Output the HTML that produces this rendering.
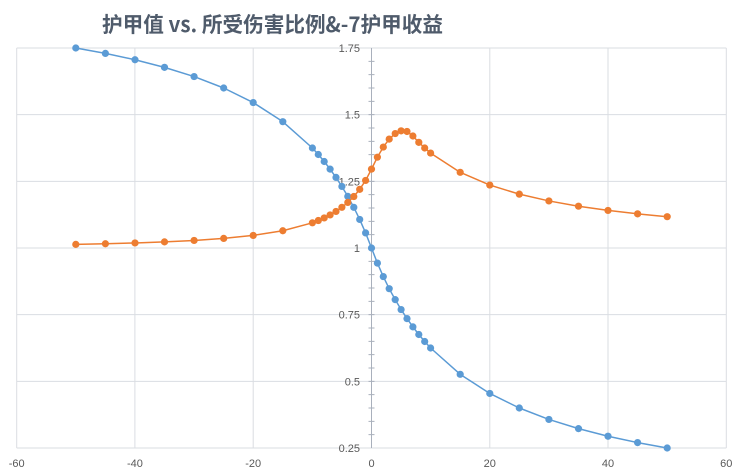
<!DOCTYPE html>
<html><head><meta charset="utf-8"><style>
html,body{margin:0;padding:0;background:#fff;}
svg{display:block;}
text{font-family:"Liberation Sans","Noto Sans CJK SC",sans-serif;}
</style></head><body>
<svg width="740" height="472" viewBox="0 0 740 472" xmlns="http://www.w3.org/2000/svg">
<rect width="740" height="472" fill="#fff"/>
<text x="102" y="32" font-size="21" font-weight="bold" fill="#4F5B6B" textLength="341" lengthAdjust="spacingAndGlyphs" style="font-family:'Noto Sans CJK SC','Liberation Sans',sans-serif">护甲值 vs. 所受伤害比例&amp;-7护甲收益</text>
<g stroke="#DADDE2" stroke-width="1" fill="none">
<line x1="16.7" y1="48" x2="726.3" y2="48"/>
<line x1="16.7" y1="114.67" x2="726.3" y2="114.67"/>
<line x1="16.7" y1="181.33" x2="726.3" y2="181.33"/>
<line x1="16.7" y1="248" x2="726.3" y2="248"/>
<line x1="16.7" y1="314.67" x2="726.3" y2="314.67"/>
<line x1="16.7" y1="381.33" x2="726.3" y2="381.33"/>
<line x1="16.7" y1="448" x2="726.3" y2="448"/>
<line x1="16.7" y1="48" x2="16.7" y2="448"/>
<line x1="134.9" y1="48" x2="134.9" y2="448"/>
<line x1="253.2" y1="48" x2="253.2" y2="448"/>
<line x1="489.8" y1="48" x2="489.8" y2="448"/>
<line x1="608" y1="48" x2="608" y2="448"/>
<line x1="726.3" y1="48" x2="726.3" y2="448"/>
</g>
<g stroke="#A9B0BC" stroke-width="1">
<line x1="371.5" y1="48" x2="371.5" y2="448"/>
<path d="M368.5 61.33h6M368.5 74.67h6M368.5 88h6M368.5 101.33h6M368.5 114.67h6M368.5 128h6M368.5 141.33h6M368.5 154.67h6M368.5 168h6M368.5 181.33h6M368.5 194.67h6M368.5 208h6M368.5 221.33h6M368.5 234.67h6M368.5 248h6M368.5 261.33h6M368.5 274.67h6M368.5 288h6M368.5 301.33h6M368.5 314.67h6M368.5 328h6M368.5 341.33h6M368.5 354.67h6M368.5 368h6M368.5 381.33h6M368.5 394.67h6M368.5 408h6M368.5 421.33h6M368.5 434.67h6"/>
</g>
<g font-size="11" fill="#595959" text-anchor="end">
<text x="360" y="52">1.75</text>
<text x="360" y="118.67">1.5</text>
<text x="360" y="185.33">1.25</text>
<text x="360" y="252">1</text>
<text x="360" y="318.67">0.75</text>
<text x="360" y="385.33">0.5</text>
<text x="360" y="452">0.25</text>
</g>
<g font-size="11" fill="#595959" text-anchor="middle">
<text x="16.7" y="467">-60</text>
<text x="134.9" y="467">-40</text>
<text x="253.2" y="467">-20</text>
<text x="371.5" y="467">0</text>
<text x="489.8" y="467">20</text>
<text x="608" y="467">40</text>
<text x="726.3" y="467">60</text>
</g>
<polyline fill="none" stroke="#5B9BD5" stroke-width="1.5" stroke-linejoin="round" points="75.8,48 105.4,53.41 135,59.76 164.5,67.35 194.1,76.57 223.7,88 253.2,102.55 282.8,121.68 312.4,148 318.3,154.49 324.2,161.51 330.1,169.13 336,177.41 341.9,186.46 347.8,196.39 353.8,207.32 359.7,219.43 365.6,232.91 371.5,248 377.4,263.09 383.3,276.57 389.2,288.68 395.2,299.61 401.1,309.54 407,318.59 412.9,326.87 418.8,334.49 424.7,341.5 430.6,348 460.2,374.32 489.8,393.45 519.3,408 548.9,419.43 578.5,428.64 608,436.23 637.6,442.59 667.2,448"/>
<polyline fill="none" stroke="#ED7D31" stroke-width="1.5" stroke-linejoin="round" points="75.8,244.38 105.4,243.75 135,242.94 164.5,241.88 194.1,240.44 223.7,238.41 253.2,235.42 282.8,230.75 312.4,222.79 318.3,220.52 324.2,217.92 330.1,214.92 336,211.42 341.9,207.3 347.8,202.41 353.8,196.53 359.7,189.35 365.6,180.43 371.5,169.13 377.4,157.17 383.3,147.08 389.2,139.1 395.2,133.56 401.1,130.85 407,131.47 412.9,136 418.8,142.34 424.7,148 430.6,153.08 460.2,172.32 489.8,185.08 519.3,194.15 548.9,200.94 578.5,206.21 608,210.42 637.6,213.85 667.2,216.71"/>
<g fill="#5B9BD5">
<circle cx="75.8" cy="48" r="3.6"/><circle cx="105.4" cy="53.41" r="3.6"/><circle cx="135" cy="59.76" r="3.6"/><circle cx="164.5" cy="67.35" r="3.6"/><circle cx="194.1" cy="76.57" r="3.6"/><circle cx="223.7" cy="88" r="3.6"/><circle cx="253.2" cy="102.55" r="3.6"/><circle cx="282.8" cy="121.68" r="3.6"/><circle cx="312.4" cy="148" r="3.6"/><circle cx="318.3" cy="154.49" r="3.6"/><circle cx="324.2" cy="161.51" r="3.6"/><circle cx="330.1" cy="169.13" r="3.6"/><circle cx="336" cy="177.41" r="3.6"/><circle cx="341.9" cy="186.46" r="3.6"/><circle cx="347.8" cy="196.39" r="3.6"/><circle cx="353.8" cy="207.32" r="3.6"/><circle cx="359.7" cy="219.43" r="3.6"/><circle cx="365.6" cy="232.91" r="3.6"/><circle cx="371.5" cy="248" r="3.6"/><circle cx="377.4" cy="263.09" r="3.6"/><circle cx="383.3" cy="276.57" r="3.6"/><circle cx="389.2" cy="288.68" r="3.6"/><circle cx="395.2" cy="299.61" r="3.6"/><circle cx="401.1" cy="309.54" r="3.6"/><circle cx="407" cy="318.59" r="3.6"/><circle cx="412.9" cy="326.87" r="3.6"/><circle cx="418.8" cy="334.49" r="3.6"/><circle cx="424.7" cy="341.5" r="3.6"/><circle cx="430.6" cy="348" r="3.6"/><circle cx="460.2" cy="374.32" r="3.6"/><circle cx="489.8" cy="393.45" r="3.6"/><circle cx="519.3" cy="408" r="3.6"/><circle cx="548.9" cy="419.43" r="3.6"/><circle cx="578.5" cy="428.64" r="3.6"/><circle cx="608" cy="436.23" r="3.6"/><circle cx="637.6" cy="442.59" r="3.6"/><circle cx="667.2" cy="448" r="3.6"/>
</g>
<g fill="#ED7D31">
<circle cx="75.8" cy="244.38" r="3.6"/><circle cx="105.4" cy="243.75" r="3.6"/><circle cx="135" cy="242.94" r="3.6"/><circle cx="164.5" cy="241.88" r="3.6"/><circle cx="194.1" cy="240.44" r="3.6"/><circle cx="223.7" cy="238.41" r="3.6"/><circle cx="253.2" cy="235.42" r="3.6"/><circle cx="282.8" cy="230.75" r="3.6"/><circle cx="312.4" cy="222.79" r="3.6"/><circle cx="318.3" cy="220.52" r="3.6"/><circle cx="324.2" cy="217.92" r="3.6"/><circle cx="330.1" cy="214.92" r="3.6"/><circle cx="336" cy="211.42" r="3.6"/><circle cx="341.9" cy="207.3" r="3.6"/><circle cx="347.8" cy="202.41" r="3.6"/><circle cx="353.8" cy="196.53" r="3.6"/><circle cx="359.7" cy="189.35" r="3.6"/><circle cx="365.6" cy="180.43" r="3.6"/><circle cx="371.5" cy="169.13" r="3.6"/><circle cx="377.4" cy="157.17" r="3.6"/><circle cx="383.3" cy="147.08" r="3.6"/><circle cx="389.2" cy="139.1" r="3.6"/><circle cx="395.2" cy="133.56" r="3.6"/><circle cx="401.1" cy="130.85" r="3.6"/><circle cx="407" cy="131.47" r="3.6"/><circle cx="412.9" cy="136" r="3.6"/><circle cx="418.8" cy="142.34" r="3.6"/><circle cx="424.7" cy="148" r="3.6"/><circle cx="430.6" cy="153.08" r="3.6"/><circle cx="460.2" cy="172.32" r="3.6"/><circle cx="489.8" cy="185.08" r="3.6"/><circle cx="519.3" cy="194.15" r="3.6"/><circle cx="548.9" cy="200.94" r="3.6"/><circle cx="578.5" cy="206.21" r="3.6"/><circle cx="608" cy="210.42" r="3.6"/><circle cx="637.6" cy="213.85" r="3.6"/><circle cx="667.2" cy="216.71" r="3.6"/>
</g>
</svg>
</body></html>
